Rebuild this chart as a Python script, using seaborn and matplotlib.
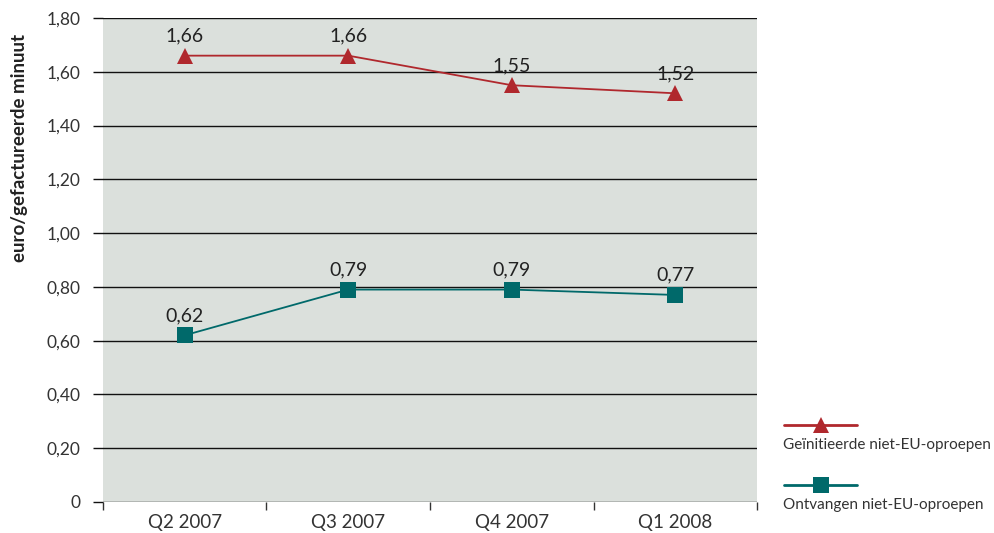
import pandas as pd
import seaborn as sns
import matplotlib.pyplot as plt
from matplotlib.lines import Line2D
from matplotlib.ticker import FixedLocator

quarters = ["Q2 2007", "Q3 2007", "Q4 2007", "Q1 2008"]
initiated = [1.66, 1.66, 1.55, 1.52]
received = [0.62, 0.79, 0.79, 0.77]
series_names = ["Geïnitieerde niet-EU-oproepen", "Ontvangen niet-EU-oproepen"]
y_ticks = [0, 0.2, 0.4, 0.6, 0.8, 1.0, 1.2, 1.4, 1.6, 1.8]

RED = "#b0282d"
TEAL = "#00696a"


def dutch(value, zero_plain=True):
    """Format number with a decimal comma, plain 0 for zero."""
    if zero_plain and value == 0:
        return "0"
    return f"{value:.2f}".replace(".", ",")


def main():
    sns.set_style("white")
    plt.rcParams["font.family"] = ["Lato", "DejaVu Sans"]

    df = pd.DataFrame({"quarter": quarters, "init": initiated, "recv": received})
    df["pos"] = range(len(quarters))

    fig = plt.figure(figsize=(9.94, 5.33), dpi=100)
    ax = fig.add_axes([0.1036, 0.0582, 0.6580, 0.9080])
    ax.set_facecolor("#dbe0dc")

    for col, color, marker in [("init", RED, "^"), ("recv", TEAL, "s")]:
        sns.lineplot(data=df, x="pos", y=col, ax=ax, color=color, marker=marker,
                     markersize=12, markeredgewidth=0, linewidth=1.3, zorder=3)
        for _, row in df.iterrows():
            ax.annotate(dutch(row[col], False), (row["pos"], row[col]),
                        xytext=(0, 8), textcoords="offset points",
                        ha="center", va="bottom", fontsize=14, color="#222222")

    ax.set_xlim(-0.5, len(quarters) - 0.5)
    ax.set_ylim(0, 1.8)
    ax.set_xticks(range(len(quarters)))
    ax.set_xticklabels(quarters, fontsize=13.5, color="#333333")
    ax.xaxis.set_minor_locator(FixedLocator([i - 0.5 for i in range(len(quarters) + 1)]))
    ax.tick_params(axis="x", which="major", length=0, pad=9)
    ax.tick_params(axis="x", which="minor", length=6, width=1, color="#333333",
                   direction="out", bottom=True)

    ax.set_yticks(y_ticks)
    ax.set_yticklabels([dutch(v) for v in y_ticks], fontsize=12.5, color="#333333")
    ax.tick_params(axis="y", length=7, width=1, color="#111111", pad=9, left=True)
    ax.grid(axis="y", color="#111111", linewidth=1)
    ax.set_axisbelow(True)

    for side in ax.spines:
        ax.spines[side].set_visible(False)

    ax.set_xlabel("")
    ax.set_ylabel("euro/gefactureerde minuut", fontsize=13.5, fontweight="bold",
                  color="#222222")
    ax.yaxis.set_label_coords(-0.115, 0.731)

    # legend drawn by hand: line sample with the label underneath
    for i, (name, color, marker) in enumerate(
            [(series_names[0], RED, "^"), (series_names[1], TEAL, "s")]):
        y = 1 - (425 + i * 60) / 533
        fig.add_artist(Line2D([784 / 994, 857 / 994], [y, y], color=color,
                              linewidth=2, transform=fig.transFigure))
        fig.add_artist(Line2D([821 / 994], [y], color=color, marker=marker,
                              markersize=12, markeredgewidth=0,
                              transform=fig.transFigure))
        fig.text(783 / 994, y - 20 / 533, name, fontsize=11, color="#333333",
                 va="center", ha="left")

    fig.savefig("out.png", dpi=100)


if __name__ == "__main__":
    main()
